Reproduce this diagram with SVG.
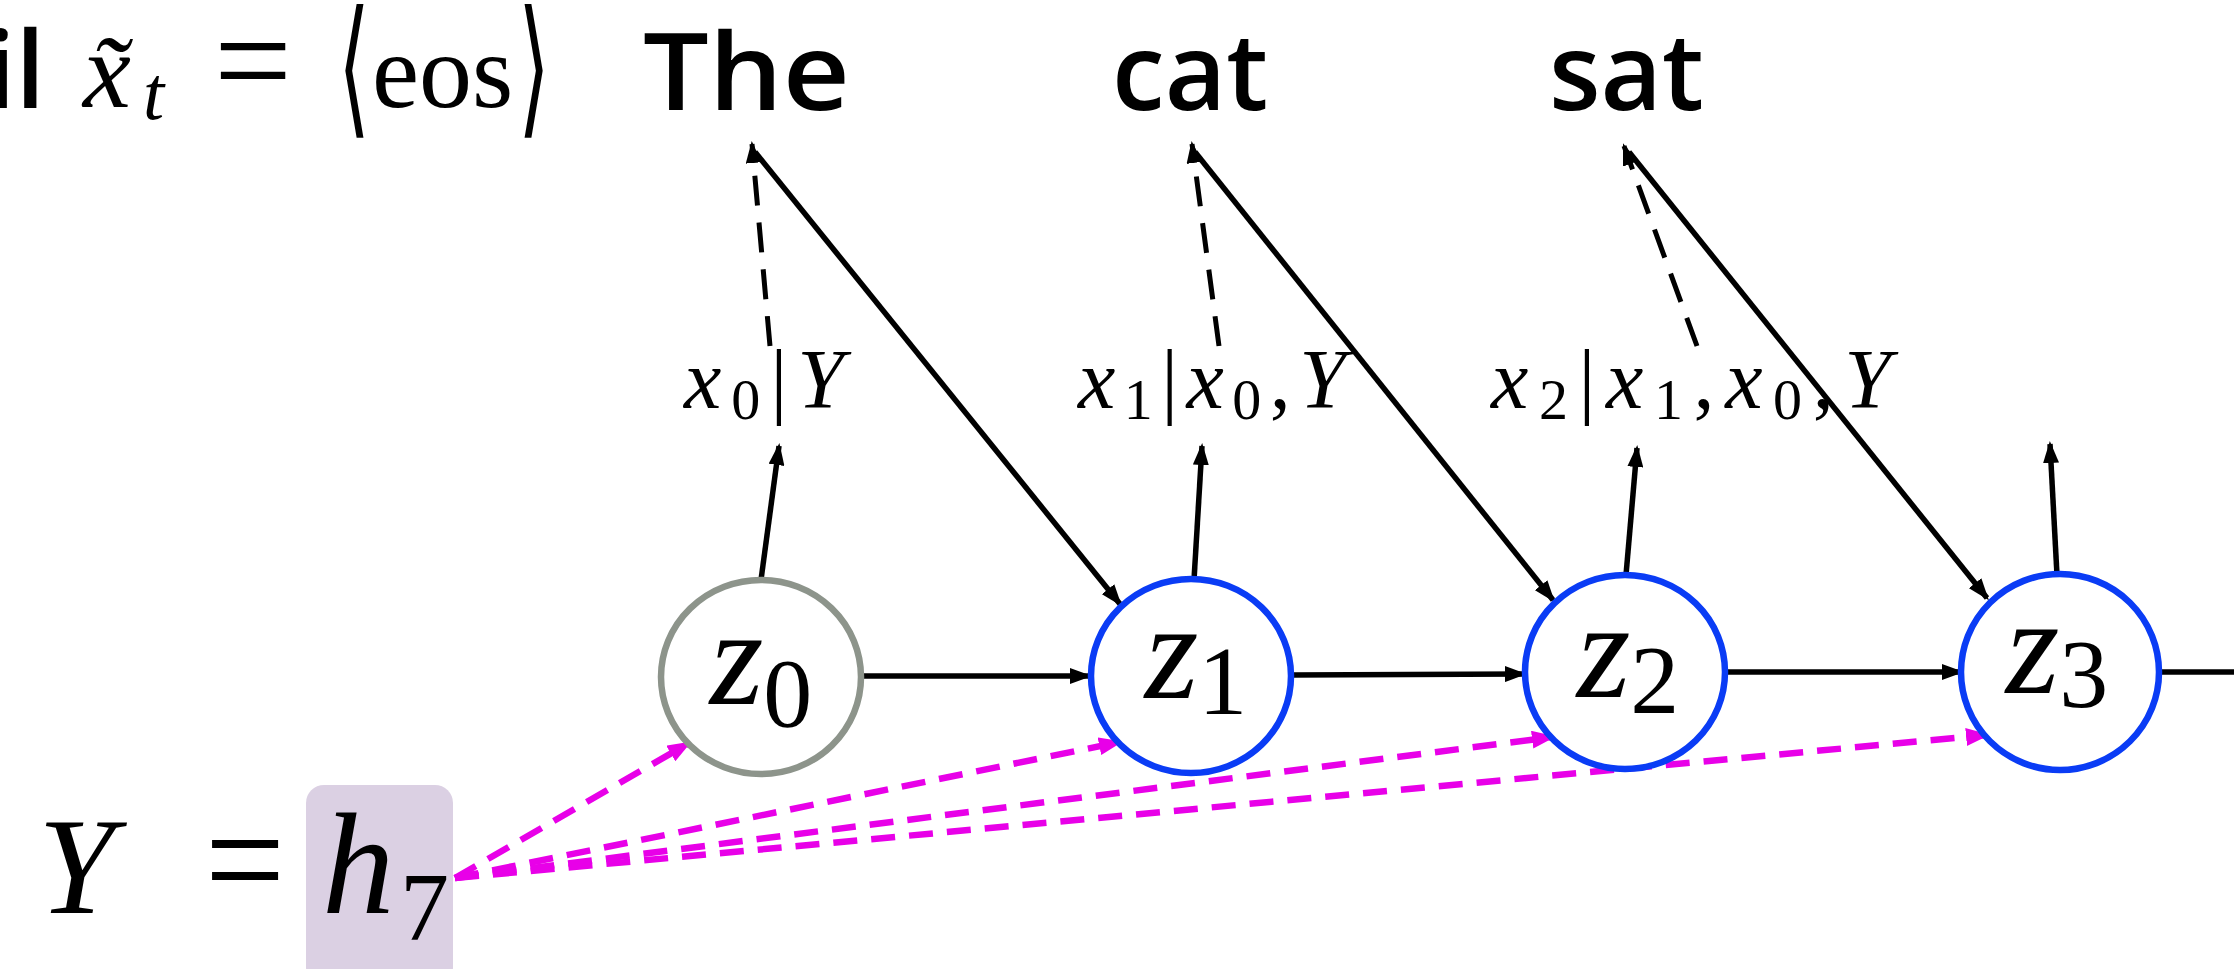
<svg xmlns="http://www.w3.org/2000/svg" width="2234" height="969" viewBox="0 0 2234 969">
<style>
.word{font-family:"Open Sans","Noto Sans",sans-serif;font-size:106px;font-weight:600;fill:#000}
.math{font-family:"Liberation Serif","DejaVu Serif",serif;fill:#000}
.it{font-style:italic}
.lbl{font-family:"Liberation Serif","DejaVu Serif",serif;font-size:84px;fill:#000}
.node{fill:#fff;stroke-width:6.5}
.gray{stroke:#8d948b}
.blue{stroke:#0a3cf5}
.ntext{font-family:"Liberation Serif","DejaVu Serif",serif;font-size:138px;fill:#000;text-anchor:middle}
.solid{stroke:#000;stroke-width:5.5;fill:none}
.dash{stroke:#000;stroke-width:5;fill:none;stroke-dasharray:30 17}
.mag{stroke:#e800e8;stroke-width:6.5;fill:none;stroke-dasharray:24 14}
</style>
<defs>
<marker id="ah" viewBox="0 0 22 16" refX="19" refY="8" markerWidth="22" markerHeight="16" markerUnits="userSpaceOnUse" orient="auto">
<path d="M0,0 L22,8 L0,16 z" fill="#000"/>
</marker>
<marker id="ahm" viewBox="0 0 24 18" refX="21" refY="9" markerWidth="24" markerHeight="18" markerUnits="userSpaceOnUse" orient="auto">
<path d="M0,0 L24,9 L0,18 z" fill="#e800e8"/>
</marker>
</defs>

<g id="top-text">
<text class="word" x="-14" y="108">il</text>
<text class="math it" x="83" y="107" font-size="108">x̃</text>
<text class="math it" x="143" y="119" font-size="76">t</text>
<text class="math" x="214" y="109" font-size="145" font-weight="300" textLength="78" lengthAdjust="spacingAndGlyphs">=</text>
<text class="math" x="338" y="118" font-size="150" font-weight="300" textLength="32" lengthAdjust="spacingAndGlyphs">⟨</text>
<text class="math" x="372" y="107" font-size="106">eos</text>
<text class="math" x="518" y="118" font-size="150" font-weight="300" textLength="32" lengthAdjust="spacingAndGlyphs">⟩</text>
</g>

<g id="word-the"><text class="word" x="643" y="110" textLength="207" lengthAdjust="spacingAndGlyphs">The</text></g>
<g id="word-cat"><text class="word" x="1112" y="110">cat</text></g>
<g id="word-sat"><text class="word" x="1549" y="110">sat</text></g>

<g id="label-0"><text class="lbl" x="684" y="408" textLength="160" lengthAdjust="spacing"><tspan class="it">x</tspan><tspan font-size="58" dy="11">0</tspan><tspan dy="-11">|</tspan><tspan class="it">Y</tspan></text></g>
<g id="label-1"><text class="lbl" x="1078" y="408" textLength="268" lengthAdjust="spacing"><tspan class="it">x</tspan><tspan font-size="58" dy="11">1</tspan><tspan dy="-11">|</tspan><tspan class="it">x</tspan><tspan font-size="58" dy="11">0</tspan><tspan dy="-11">,</tspan><tspan class="it">Y</tspan></text></g>
<g id="label-2"><text class="lbl" x="1491" y="408" textLength="400" lengthAdjust="spacing"><tspan class="it">x</tspan><tspan font-size="58" dy="11">2</tspan><tspan dy="-11">|</tspan><tspan class="it">x</tspan><tspan font-size="58" dy="11">1</tspan><tspan dy="-11">,</tspan><tspan class="it">x</tspan><tspan font-size="58" dy="11">0</tspan><tspan dy="-11">,</tspan><tspan class="it">Y</tspan></text></g>

<g id="connectors">
<!-- dashed arrows label -> word -->
<path class="dash" d="M770,346 L752,144" marker-end="url(#ah)"/>
<path class="dash" d="M1219,346 L1192,144" marker-end="url(#ah)"/>
<path class="dash" d="M1697,346 L1624,146" marker-end="url(#ah)"/>
<!-- solid diagonal word -> next node -->
<path class="solid" d="M755,152 L1120,604" marker-end="url(#ah)"/>
<path class="solid" d="M1195,152 L1553,600" marker-end="url(#ah)"/>
<path class="solid" d="M1629,152 L1987,598" marker-end="url(#ah)"/>
<!-- vertical node -> label -->
<path class="solid" d="M761,580 L779,446" marker-end="url(#ah)"/>
<path class="solid" d="M1194,580 L1202,446" marker-end="url(#ah)"/>
<path class="solid" d="M1626,575 L1637,448" marker-end="url(#ah)"/>
<path class="solid" d="M2057,575 L2050,444" marker-end="url(#ah)"/>
<!-- horizontal chain -->
<path class="solid" stroke-width="6" d="M863,676 L1089,676" marker-end="url(#ah)"/>
<path class="solid" stroke-width="6" d="M1292,675 L1524,674" marker-end="url(#ah)"/>
<path class="solid" stroke-width="6" d="M1726,672 L1961,672" marker-end="url(#ah)"/>
<path class="solid" stroke-width="6" d="M2160,672 L2240,672"/>
<!-- magenta dashed from h7 -->
<path class="mag" d="M455,878 L689,743" marker-end="url(#ahm)"/>
<path class="mag" d="M455,878 L1120,742" marker-end="url(#ahm)"/>
<path class="mag" d="M455,878 L1553,737" marker-end="url(#ahm)"/>
<path class="mag" d="M455,878 L1987,735" marker-end="url(#ahm)"/>
</g>

<g id="node-z0"><ellipse class="node gray" cx="761" cy="677" rx="100" ry="97"/><text class="ntext" x="761" y="704"><tspan class="it">z</tspan><tspan font-size="98" dy="22">0</tspan></text></g>
<g id="node-z1"><ellipse class="node blue" cx="1191" cy="676" rx="100" ry="97"/><text class="ntext" x="1196" y="698"><tspan class="it">z</tspan><tspan font-size="98" dy="16">1</tspan></text></g>
<g id="node-z2"><ellipse class="node blue" cx="1625" cy="672" rx="100" ry="97"/><text class="ntext" x="1628" y="697"><tspan class="it">z</tspan><tspan font-size="98" dy="16">2</tspan></text></g>
<g id="node-z3"><ellipse class="node blue" cx="2060" cy="672" rx="99" ry="98"/><text class="ntext" x="2057" y="693"><tspan class="it">z</tspan><tspan font-size="98" dy="14">3</tspan></text></g>

<g id="y-eq">
<rect x="306" y="785" width="147" height="200" rx="18" fill="#dbd0e3"/>
<text class="math it" x="38" y="913" font-size="138">Y</text>
<text class="math" x="205" y="913" font-size="160" font-weight="300" textLength="80" lengthAdjust="spacingAndGlyphs">=</text>
<text class="math it" x="322" y="913" font-size="145">h</text>
<text class="math" x="400" y="940" font-size="98">7</text>
</g>
</svg>
